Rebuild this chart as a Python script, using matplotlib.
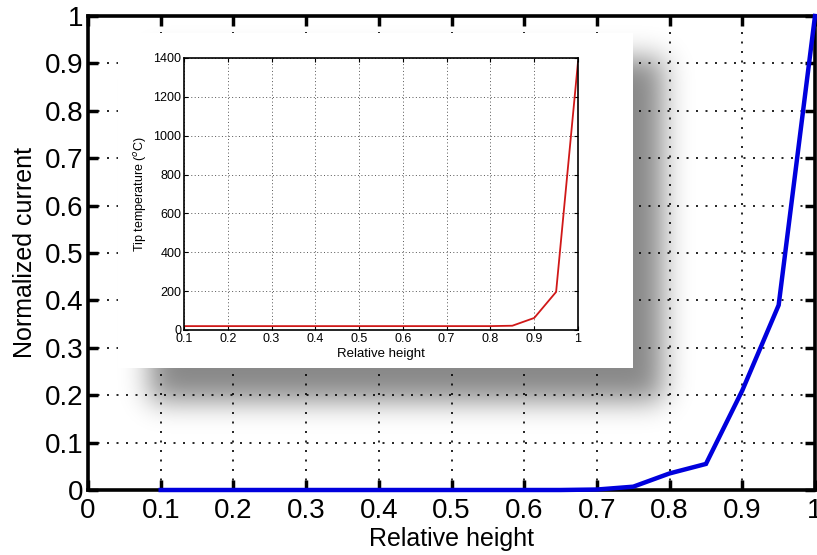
import numpy as np
import matplotlib
matplotlib.use("Agg")
import matplotlib.pyplot as plt

plt.rcParams['font.family'] = ['Liberation Sans', 'DejaVu Sans']

# Main curve: normalized current vs relative height
height = [0.1, 0.15, 0.2, 0.25, 0.3, 0.35, 0.4, 0.45, 0.5, 0.55, 0.6, 0.65,
          0.7, 0.75, 0.8, 0.85, 0.9, 0.95, 1.0]
current = [0.0, 0.0, 0.0, 0.0, 0.0, 0.0, 0.0, 0.0, 0.0, 0.0, 0.0, 0.0,
           0.001, 0.007, 0.035, 0.055, 0.21, 0.39, 1.0]

# Inset curve: tip temperature vs relative height
temp_height = [0.1, 0.15, 0.2, 0.25, 0.3, 0.35, 0.4, 0.45, 0.5, 0.55, 0.6,
               0.65, 0.7, 0.75, 0.8, 0.85, 0.9, 0.95, 1.0]
tip_temp = [20, 20, 20, 20, 20, 20, 20, 20, 20, 20, 20, 20, 20, 20, 20, 22,
            62, 196, 1380]

main_xticks = [0, 0.1, 0.2, 0.3, 0.4, 0.5, 0.6, 0.7, 0.8, 0.9, 1]
main_xlabels = ['0', '0.1', '0.2', '0.3', '0.4', '0.5', '0.6', '0.7', '0.8', '0.9', '1']
main_yticks = main_xticks
main_ylabels = main_xlabels
inset_xticks = [0.1, 0.2, 0.3, 0.4, 0.5, 0.6, 0.7, 0.8, 0.9, 1]
inset_xlabels = ['0.1', '0.2', '0.3', '0.4', '0.5', '0.6', '0.7', '0.8', '0.9', '1']
inset_yticks = [0, 200, 400, 600, 800, 1000, 1200, 1400]

W, H = 817, 555
fig = plt.figure(figsize=(W / 100, H / 100), dpi=100)

# ---- main axes ----
ax = fig.add_axes([88 / W, 1 - 490 / H, 727 / W, 474 / H])
ax.set_xlim(0, 1)
ax.set_ylim(0, 1)

# soft drop shadow behind the inset panel (axes pixel grid)
aw, ah = 727, 474
yy, xx = np.mgrid[0:ah, 0:aw]
# shadow rectangle in axes pixels (origin top-left of axes)
x0, x1, y0, y1 = 150 - 88, 662 - 88, 58 - 16, 400 - 16
mask = ((xx >= x0) & (xx <= x1) & (yy >= y0) & (yy <= y1)).astype(float)


def blur(a, sigma):
    r = int(3 * sigma)
    k = np.exp(-0.5 * (np.arange(-r, r + 1) / sigma) ** 2)
    k /= k.sum()
    a = np.apply_along_axis(lambda m: np.convolve(m, k, mode='same'), 1, a)
    a = np.apply_along_axis(lambda m: np.convolve(m, k, mode='same'), 0, a)
    return a


alpha = blur(mask, 14) * 0.47
rgba = np.zeros((ah, aw, 4))
rgba[..., 3] = alpha
ax.imshow(rgba, extent=[0, 1, 0, 1], transform=ax.transAxes, aspect='auto',
          interpolation='bilinear', zorder=0.2)
ax.set_xlim(0, 1)
ax.set_ylim(0, 1)

ax.plot(height, current, color='#0000dd', lw=3.2, zorder=5, clip_on=False,
        solid_joinstyle='miter')

ax.set_xticks(main_xticks)
ax.set_xticklabels(main_xlabels)
ax.set_yticks(main_yticks)
ax.set_yticklabels(main_ylabels)
ax.grid(True, color='black', linestyle=(0, (1.2, 4.5)), lw=1.2)
ax.tick_params(direction='in', length=7, width=2.5, labelsize=20,
               top=True, right=True, pad=3)
ax.tick_params(axis='x', pad=6)
for s in ax.spines.values():
    s.set_linewidth(2.6)
ax.set_xlabel('Relative height', fontsize=18, labelpad=2)
ax.set_ylabel('Normalized current', fontsize=18, labelpad=6)

# ---- inset panel (white card) ----
card = fig.add_axes([118 / W, 1 - 368 / H, 515 / W, 335 / H], zorder=3)
card.set_facecolor('white')
card.set_xticks([])
card.set_yticks([])
for s in card.spines.values():
    s.set_visible(False)

ins = fig.add_axes([184 / W, 1 - 330 / H, 394 / W, 272 / H], zorder=4)
ins.plot(temp_height, tip_temp, color='#d01818', lw=1.3)
ins.set_xlim(0.1, 1)
ins.set_ylim(0, 1400)
ins.set_xticks(inset_xticks)
ins.set_xticklabels(inset_xlabels)
ins.set_yticks(inset_yticks)
ins.grid(True, color='#555555', linestyle=(0, (1, 2.5)), lw=0.7)
ins.tick_params(direction='in', length=3, width=0.8, labelsize=9,
                top=True, right=True, pad=2)
for s in ins.spines.values():
    s.set_linewidth(1.2)
ins.set_xlabel('Relative height', fontsize=9.5, labelpad=2)
ins.set_ylabel(r'Tip temperature ($^{o}$C)', fontsize=9, labelpad=3)

fig.savefig('out.png', dpi=100)
